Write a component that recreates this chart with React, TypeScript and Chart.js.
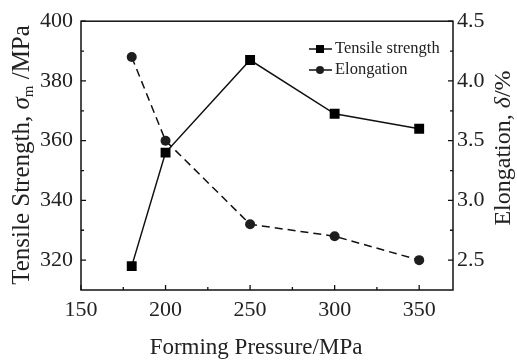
import React, { useEffect, useRef } from "react";
import { Chart, registerables } from "chart.js";

Chart.register(...registerables);

const pressures = [180, 200, 250, 300, 350];
const tensileStrength = [318, 356, 387, 369, 364];
const elongation = [4.2, 3.5, 2.8, 2.7, 2.5];
const xTicks = [150, 200, 250, 300, 350];
const yLeftTicks = [320, 340, 360, 380, 400];
const yRightTicks = [2.5, 3.0, 3.5, 4.0, 4.5];
const seriesNames = ["Tensile strength", "Elongation"];
const xTitle = "Forming Pressure/MPa";

const FONT = "'Liberation Serif', 'Times New Roman', serif";
const TICK_SIZE = 22;

type Part = { text: string; italic?: boolean; sub?: boolean };

function drawParts(ctx: CanvasRenderingContext2D, parts: Part[], cx: number, cy: number, rot: number, size: number) {
  ctx.save();
  ctx.translate(cx, cy);
  ctx.rotate(rot);
  ctx.textBaseline = "middle";
  ctx.textAlign = "left";
  ctx.fillStyle = "#222";
  const fontFor = (p: Part) => `${p.italic ? "italic " : ""}${p.sub ? Math.round(size * 0.6) : size}px ${FONT}`;
  let total = 0;
  const widths = parts.map((p) => {
    ctx.font = fontFor(p);
    const w = ctx.measureText(p.text).width;
    total += w;
    return w;
  });
  let x = -total / 2;
  parts.forEach((p, i) => {
    ctx.font = fontFor(p);
    ctx.fillText(p.text, x, p.sub ? size * 0.28 : 0);
    x += widths[i];
  });
  ctx.restore();
}

function minorTicks(major: number[], min: number, max: number) {
  const out: number[] = [];
  const step = major[1] - major[0];
  const cands = new Set<number>();
  major.forEach((t) => {
    cands.add(+(t - step / 2).toFixed(6));
    cands.add(+(t + step / 2).toFixed(6));
  });
  cands.forEach((v) => {
    if (v > min + 1e-9 && v < max - 1e-9) out.push(v);
  });
  return out;
}

const framePlugin = {
  id: "frameAndDecor",
  afterDraw(chart: any) {
    const ctx: CanvasRenderingContext2D = chart.ctx;
    const { left, right, top, bottom } = chart.chartArea;
    const xs = chart.scales.x;
    const yl = chart.scales.y;
    const yr = chart.scales.y1;
    ctx.save();
    ctx.strokeStyle = "#111";
    ctx.lineWidth = 1.5;
    ctx.strokeRect(left, top, right - left, bottom - top);
    ctx.lineWidth = 1.3;
    const MAJ = 5;
    const MIN = 3;
    ctx.beginPath();
    xTicks.forEach((v) => {
      const px = xs.getPixelForValue(v);
      ctx.moveTo(px, bottom);
      ctx.lineTo(px, bottom - MAJ);
    });
    minorTicks(xTicks, xs.min, xs.max).forEach((v) => {
      const px = xs.getPixelForValue(v);
      ctx.moveTo(px, bottom);
      ctx.lineTo(px, bottom - MIN);
    });
    yLeftTicks.forEach((v) => {
      const py = yl.getPixelForValue(v);
      ctx.moveTo(left, py);
      ctx.lineTo(left + MAJ, py);
    });
    minorTicks(yLeftTicks, yl.min, yl.max).forEach((v) => {
      const py = yl.getPixelForValue(v);
      ctx.moveTo(left, py);
      ctx.lineTo(left + MIN, py);
    });
    yRightTicks.forEach((v) => {
      const py = yr.getPixelForValue(v);
      ctx.moveTo(right, py);
      ctx.lineTo(right - MAJ, py);
    });
    minorTicks(yRightTicks, yr.min, yr.max).forEach((v) => {
      const py = yr.getPixelForValue(v);
      ctx.moveTo(right, py);
      ctx.lineTo(right - MIN, py);
    });
    ctx.stroke();

    // legend
    const lx0 = 309, lx1 = 332, lmx = 320;
    const rows = [49, 70];
    chart.data.datasets.forEach((ds: any, i: number) => {
      const y = rows[i];
      ctx.strokeStyle = "#111";
      ctx.lineWidth = 1.5;
      ctx.setLineDash([]);
      ctx.beginPath();
      ctx.moveTo(lx0, y);
      ctx.lineTo(lx1, y);
      ctx.stroke();
      ctx.fillStyle = ds.pointBackgroundColor;
      ctx.beginPath();
      if (ds.pointStyle === "rect") {
        ctx.rect(lmx - 4, y - 4, 8, 8);
      } else {
        ctx.arc(lmx, y, 4, 0, Math.PI * 2);
      }
      ctx.fill();
      ctx.fillStyle = "#222";
      ctx.font = `16.5px ${FONT}`;
      ctx.textBaseline = "middle";
      ctx.textAlign = "left";
      ctx.fillText(ds.label, 335, y);
    });
    ctx.restore();

    drawParts(ctx, [{ text: xTitle }], 256, 348, 0, 23);
    drawParts(
      ctx,
      [{ text: "Tensile Strength, " }, { text: "σ", italic: true }, { text: "m", sub: true }, { text: " /MPa" }],
      22,
      155,
      -Math.PI / 2,
      25
    );
    drawParts(
      ctx,
      [{ text: "Elongation, " }, { text: "δ", italic: true }, { text: "/%" }],
      504,
      148,
      -Math.PI / 2,
      24
    );
  },
};

export default function App() {
  const ref = useRef<HTMLCanvasElement | null>(null);
  useEffect(() => {
    document.body.style.margin = "0";
    if (!ref.current) return;
    Chart.defaults.font.family = FONT;
    Chart.defaults.color = "#222";
    const chart = new Chart(ref.current, {
      type: "line",
      data: {
        datasets: [
          {
            label: seriesNames[0],
            data: pressures.map((p, i) => ({ x: p, y: tensileStrength[i] })),
            yAxisID: "y",
            borderColor: "#111",
            borderWidth: 1.5,
            pointStyle: "rect",
            pointRadius: 7,
            pointHoverRadius: 7,
            pointBackgroundColor: "#000",
            pointBorderWidth: 0,
            tension: 0,
          },
          {
            label: seriesNames[1],
            data: pressures.map((p, i) => ({ x: p, y: elongation[i] })),
            yAxisID: "y1",
            borderColor: "#111",
            borderWidth: 1.5,
            borderDash: [8, 5],
            pointStyle: "circle",
            pointRadius: 5,
            pointHoverRadius: 5,
            pointBackgroundColor: "#1e1e1e",
            pointBorderWidth: 0,
            tension: 0,
          },
        ],
      },
      options: {
        animation: false,
        responsive: false,
        devicePixelRatio: 1,
        layout: { padding: { top: 13, left: 0, right: 0, bottom: 0 } },
        plugins: { legend: { display: false }, tooltip: { enabled: false } },
        scales: {
          x: {
            type: "linear",
            min: 150,
            max: 370,
            grid: { display: false, drawTicks: false, tickLength: 0 },
            border: { display: false },
            afterBuildTicks: (s: any) => {
              s.ticks = xTicks.map((v) => ({ value: v }));
            },
            afterFit: (s: any) => {
              s.height = 73;
            },
            ticks: { padding: 7, font: { size: TICK_SIZE, family: FONT }, color: "#222", maxRotation: 0, autoSkip: false },
          },
          y: {
            type: "linear",
            position: "left",
            min: 310,
            max: 400,
            grid: { display: false, drawTicks: false, tickLength: 0 },
            border: { display: false },
            afterBuildTicks: (s: any) => {
              s.ticks = yLeftTicks.map((v) => ({ value: v }));
            },
            afterFit: (s: any) => {
              s.width = 81;
            },
            ticks: { padding: 8, font: { size: TICK_SIZE, family: FONT }, color: "#222", autoSkip: false },
          },
          y1: {
            type: "linear",
            position: "right",
            min: 2.25,
            max: 4.5,
            grid: { display: false, drawTicks: false, tickLength: 0 },
            border: { display: false },
            afterBuildTicks: (s: any) => {
              s.ticks = yRightTicks.map((v) => ({ value: v }));
            },
            afterFit: (s: any) => {
              s.width = 64;
            },
            ticks: {
              padding: 4,
              font: { size: TICK_SIZE, family: FONT },
              color: "#222",
              autoSkip: false,
              callback: (v: any) => Number(v).toFixed(1),
            },
          },
        },
      },
      plugins: [framePlugin],
    });
    return () => chart.destroy();
  }, []);
  return (
    <div style={{ position: "absolute", left: 0, top: 0, width: 517, height: 363, background: "#fff" }}>
      <canvas ref={ref} width={517} height={363} style={{ display: "block" }} />
    </div>
  );
}
